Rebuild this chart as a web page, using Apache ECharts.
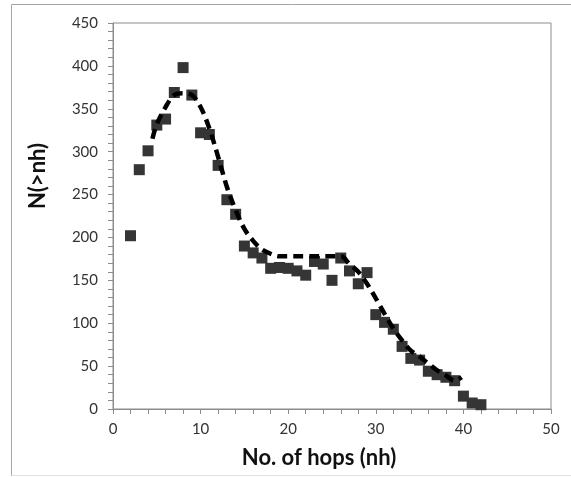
<!DOCTYPE html>
<html>
<head>
<meta charset="utf-8">
<script src="https://cdn.jsdelivr.net/npm/echarts@6/dist/echarts.min.js"></script>
<style>
  html, body { margin: 0; padding: 0; background: #fff; }
  #chart { width: 571px; height: 477px; }
</style>
</head>
<body>
<div id="chart"></div>
<script>
// hops and measured counts
var hops = [2, 3, 4, 5, 6, 7, 8, 9, 10, 11, 12, 13, 14, 15, 16, 17, 18, 19, 20, 21, 22,
            23, 24, 25, 26, 27, 28, 29, 30, 31, 32, 33, 34, 35, 36, 37, 38, 39, 40, 41, 42];
var counts = [202, 279, 301, 331, 338, 369, 398, 366, 322, 320, 284, 244, 227, 190, 182, 176, 164, 165, 164, 161, 156,
              172, 169, 150, 176, 161, 146, 159, 110, 101, 93, 73, 59, 57, 44, 40, 37, 33, 15, 7, 5];

// dashed trend curve
var trendX = [4.5, 5, 6, 7, 8, 9, 10, 11, 12, 13, 14, 15, 16, 17, 18, 19, 20, 22, 24, 26,
              27, 28, 29, 30, 31, 32, 33, 34, 35, 36, 37, 38, 39, 39.8];
var trendY = [315, 332, 352, 366, 368, 366, 352, 327, 294, 259, 232, 210, 196, 186, 181, 178, 178, 178, 178, 178,
              169, 160, 146, 129, 111, 94, 80, 68, 61, 53, 45, 39, 33, 37];

var xTicks = [0, 10, 20, 30, 40, 50];
var yTicks = [0, 50, 100, 150, 200, 250, 300, 350, 400, 450];

var pts = hops.map(function (h, i) { return [h, counts[i]]; });
var trend = trendX.map(function (h, i) { return [h, trendY[i]]; });

var font = 'Lato, "Liberation Sans", sans-serif';
var axisGray = '#8c8c8c';

var myChart = echarts.init(document.getElementById('chart'));
var option = {
    animation: false,
    graphic: [
        { type: 'polyline', shape: { points: [[11.5, 476], [11.5, 4.5], [571, 4.5]] }, style: { stroke: '#a6a6a6', fill: null, lineWidth: 1 } },
        { type: 'line', shape: { x1: 11.5, y1: 475.5, x2: 571, y2: 475.5 }, style: { stroke: '#e0e0e0', lineWidth: 1 } }
    ],
    grid: { left: 113, top: 23, right: 20, bottom: 68, show: true, borderColor: axisGray, borderWidth: 1 },
    xAxis: {
        type: 'value', min: xTicks[0], max: xTicks[xTicks.length - 1], interval: 10,
        name: 'No. of hops (nh)', nameLocation: 'middle', nameGap: 38,
        nameTextStyle: { fontFamily: font, fontSize: 22, fontWeight: 'bold', color: '#111', padding: [0, 26, 0, 0] },
        axisLine: { lineStyle: { color: axisGray } },
        axisTick: { length: 5, lineStyle: { color: axisGray } },
        minorTick: { show: true, splitNumber: 5, length: 5, lineStyle: { color: axisGray } },
        splitLine: { show: false },
        axisLabel: { fontFamily: font, fontSize: 15, color: '#333', margin: 13 }
    },
    yAxis: {
        type: 'value', min: yTicks[0], max: yTicks[yTicks.length - 1], interval: 50,
        name: 'N(>nh)', nameLocation: 'middle', nameGap: 64,
        nameTextStyle: { fontFamily: font, fontSize: 22, fontWeight: 'bold', color: '#111', padding: [0, 0, 0, 80] },
        axisLine: { show: true, lineStyle: { color: axisGray } },
        axisTick: { show: true, length: 5, lineStyle: { color: axisGray } },
        minorTick: { show: true, splitNumber: 5, length: 5, lineStyle: { color: axisGray } },
        splitLine: { show: false },
        axisLabel: { fontFamily: font, fontSize: 15, color: '#333', margin: 15 }
    },
    series: [
        {
            type: 'scatter', data: pts, symbol: 'rect', symbolSize: 11,
            itemStyle: { color: '#353535', opacity: 1 }, z: 2
        },
        {
            type: 'line', data: trend, smooth: 0.35, showSymbol: false, symbol: 'none',
            lineStyle: { color: '#000', width: 4.5, type: [10, 6], cap: 'butt' }, z: 3
        }
    ]
};
myChart.setOption(option);
</script>
</body>
</html>
